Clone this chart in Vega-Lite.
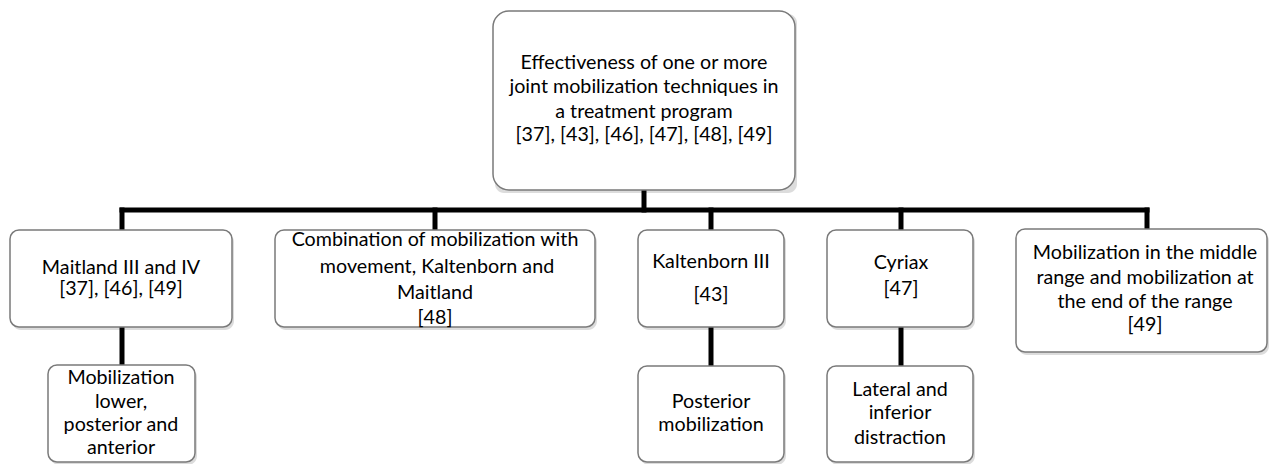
{
  "$schema": "https://vega.github.io/schema/vega-lite/v6.json",
  "width": 1269,
  "height": 464,
  "padding": 0,
  "autosize": {"type": "none"},
  "background": "white",
  "config": {"view": {"stroke": null}},
  "datasets": {
    "nodes": [
      {"id": "root", "x0": 493, "x1": 795, "y0": 11, "y1": 190, "big": true},
      {"id": "maitland", "x0": 10, "x1": 232, "y0": 230, "y1": 327, "big": false},
      {"id": "combo", "x0": 275, "x1": 595, "y0": 230, "y1": 327, "big": false},
      {"id": "kalt", "x0": 638, "x1": 784, "y0": 230, "y1": 327, "big": false},
      {"id": "cyriax", "x0": 827, "x1": 973, "y0": 230, "y1": 327, "big": false},
      {"id": "middle", "x0": 1016, "x1": 1267, "y0": 229, "y1": 352, "big": false},
      {"id": "c_mait", "x0": 48, "x1": 195, "y0": 365, "y1": 462, "big": false},
      {"id": "c_kalt", "x0": 638, "x1": 784, "y0": 366, "y1": 462, "big": false},
      {"id": "c_cyr", "x0": 827, "x1": 973, "y0": 366, "y1": 462, "big": false}
    ],
    "edges": [
      {"xa": 644, "ya": 190, "xb": 644, "yb": 210},
      {"xa": 122, "ya": 210, "xb": 1147, "yb": 210},
      {"xa": 122, "ya": 210, "xb": 122, "yb": 230},
      {"xa": 435, "ya": 210, "xb": 435, "yb": 230},
      {"xa": 711, "ya": 210, "xb": 711, "yb": 230},
      {"xa": 901, "ya": 210, "xb": 901, "yb": 230},
      {"xa": 1147, "ya": 210, "xb": 1147, "yb": 229},
      {"xa": 122, "ya": 327, "xb": 122, "yb": 365},
      {"xa": 711, "ya": 327, "xb": 711, "yb": 366},
      {"xa": 901, "ya": 327, "xb": 901, "yb": 366}
    ],
    "labels": [
      {"t": "Effectiveness of one or more", "x": 644, "y": 63},
      {"t": "joint mobilization techniques in", "x": 644, "y": 87},
      {"t": "a treatment program", "x": 644, "y": 112},
      {"t": "[37], [43], [46], [47], [48], [49]", "x": 644, "y": 135},
      {"t": "Maitland III and IV", "x": 121, "y": 268},
      {"t": "[37], [46], [49]", "x": 121, "y": 289},
      {"t": "Combination of mobilization with", "x": 435, "y": 240},
      {"t": "movement, Kaltenborn and", "x": 437, "y": 267},
      {"t": "Maitland", "x": 435, "y": 293},
      {"t": "[48]", "x": 435, "y": 318},
      {"t": "Kaltenborn III", "x": 711, "y": 262},
      {"t": "[43]", "x": 711, "y": 295},
      {"t": "Cyriax", "x": 901, "y": 263},
      {"t": "[47]", "x": 901, "y": 289},
      {"t": "Mobilization in the middle", "x": 1145, "y": 253},
      {"t": "range and mobilization at", "x": 1145, "y": 278},
      {"t": "the end of the range", "x": 1145, "y": 302},
      {"t": "[49]", "x": 1145, "y": 325},
      {"t": "Mobilization", "x": 121, "y": 378},
      {"t": "lower,", "x": 121, "y": 402},
      {"t": "posterior and", "x": 121, "y": 425},
      {"t": "anterior", "x": 121, "y": 448},
      {"t": "Posterior", "x": 711, "y": 402},
      {"t": "mobilization", "x": 711, "y": 425},
      {"t": "Lateral and", "x": 900, "y": 390},
      {"t": "inferior", "x": 900, "y": 413},
      {"t": "distraction", "x": 900, "y": 438}
    ]
  },
  "resolve": {"scale": {"x": "shared", "y": "shared"}},
  "layer": [
    {
      "data": {"name": "nodes"},
      "mark": {"type": "rect", "fill": "#9a9a9a", "opacity": 0.35, "cornerRadius": 9, "xOffset": 2, "yOffset": 3, "x2Offset": 2, "y2Offset": 3},
      "encoding": {
        "x": {"field": "x0", "type": "quantitative", "scale": {"domain": [0, 1269], "nice": false, "zero": false}, "axis": null},
        "x2": {"field": "x1"},
        "y": {"field": "y0", "type": "quantitative", "scale": {"domain": [0, 464], "nice": false, "zero": false, "reverse": true}, "axis": null},
        "y2": {"field": "y1"}
      }
    },
    {
      "data": {"name": "edges"},
      "mark": {"type": "rule", "color": "black", "strokeWidth": 5, "strokeCap": "square"},
      "encoding": {
        "x": {"field": "xa", "type": "quantitative"},
        "x2": {"field": "xb"},
        "y": {"field": "ya", "type": "quantitative"},
        "y2": {"field": "yb"}
      }
    },
    {
      "data": {"name": "nodes"},
      "transform": [{"filter": "!datum.big"}],
      "mark": {"type": "rect", "fill": "white", "stroke": "#7a7a7a", "strokeWidth": 1.5, "cornerRadius": 9},
      "encoding": {
        "x": {"field": "x0", "type": "quantitative"},
        "x2": {"field": "x1"},
        "y": {"field": "y0", "type": "quantitative"},
        "y2": {"field": "y1"}
      }
    },
    {
      "data": {"name": "nodes"},
      "transform": [{"filter": "datum.big"}],
      "mark": {"type": "rect", "fill": "white", "stroke": "#7a7a7a", "strokeWidth": 1.5, "cornerRadius": 16},
      "encoding": {
        "x": {"field": "x0", "type": "quantitative"},
        "x2": {"field": "x1"},
        "y": {"field": "y0", "type": "quantitative"},
        "y2": {"field": "y1"}
      }
    },
    {
      "data": {"name": "labels"},
      "mark": {"type": "text", "font": "Lato", "fontSize": 19.7, "color": "black", "align": "center", "baseline": "middle"},
      "encoding": {
        "x": {"field": "x", "type": "quantitative"},
        "y": {"field": "y", "type": "quantitative"},
        "text": {"field": "t"}
      }
    }
  ]
}
